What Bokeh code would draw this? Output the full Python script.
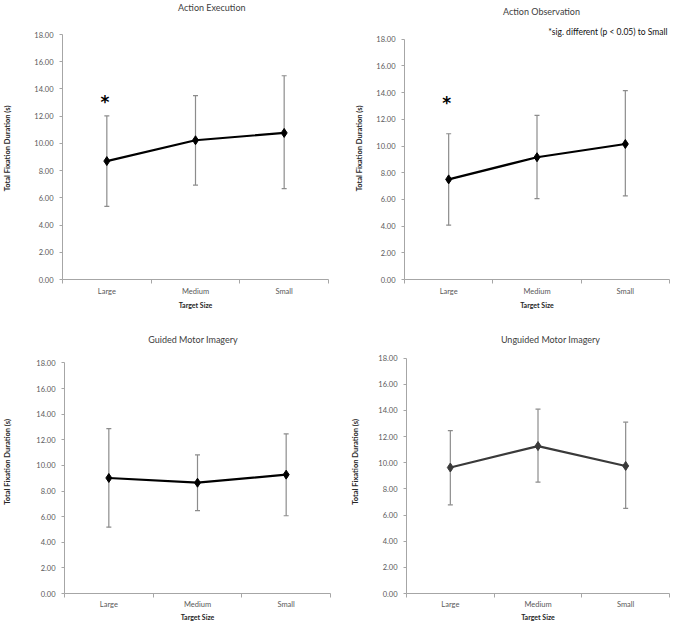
from bokeh.plotting import figure
from bokeh.layouts import column, row
from bokeh.models import (ColumnDataSource, Range1d, FixedTicker, PrintfTickFormatter,
                          Whisker, TeeHead, Label)
from bokeh.embed import file_html
from bokeh.resources import INLINE

# ---------------- data ----------------
categories = ["Large", "Medium", "Small"]
y_ticks = [0, 2, 4, 6, 8, 10, 12, 14, 16, 18]

exec_mean = [8.70, 10.23, 10.77]
exec_upper = [12.02, 13.51, 14.97]
exec_lower = [5.37, 6.94, 6.67]

obs_mean = [7.50, 9.16, 10.15]
obs_upper = [10.92, 12.29, 14.15]
obs_lower = [4.07, 6.06, 6.26]

guided_mean = [9.02, 8.65, 9.28]
guided_upper = [12.87, 10.82, 12.46]
guided_lower = [5.18, 6.47, 6.07]

unguided_mean = [9.63, 11.27, 9.75]
unguided_upper = [12.45, 14.09, 13.10]
unguided_lower = [6.78, 8.52, 6.51]

sig_category = "Large"
exec_sig_y = 13.34
obs_sig_y = 13.53

titles = ["Action Execution", "Action Observation", "Guided Motor Imagery", "Unguided Motor Imagery"]
x_label = "Target Size"
y_label = "Total Fixation Duration (s)"
note_text = "*sig. different (p < 0.05) to Small"

FONT = "Lato"
AXIS_COL = "#a6a6a6"
TICK_TXT = "#595959"
TITLE_COL = "#404040"
LABEL_COL = "#262626"
ERR_COL = "#8c8c8c"
# trailing em spaces nudge the rotated y label down to the middle of the 0-18 span
YLAB_PAD = "\u2003\u2003\u2003"


def make_panel(title, mean, upper, lower, w, h, left, right, frame_h, y18_px,
               title_pos, ylab_standoff, tick_standoff, xlab_standoff,
               line_col="black", sig_y=None, note_pos=None):
    n = len(categories)
    ymax = y_ticks[-1]
    fw = w - left - right
    ytop = ymax * frame_h / (frame_h - y18_px)

    def dx(px):
        return px / fw * n

    def dy(py):
        return (frame_h - py) / frame_h * ytop

    p = figure(width=w, height=h, output_backend="svg", toolbar_location=None,
               x_range=Range1d(0, n), y_range=Range1d(0, ytop),
               min_border_left=left, min_border_right=right,
               min_border_top=0, min_border_bottom=h - frame_h)
    p.outline_line_color = None
    p.xgrid.visible = False
    p.ygrid.visible = False

    pos = [i + 0.5 for i in range(n)]
    src = ColumnDataSource(dict(x=pos, y=mean, up=upper, lo=lower))

    ya = p.yaxis[0]
    ya.ticker = FixedTicker(ticks=y_ticks)
    ya.bounds = (0, ymax)
    ya.formatter = PrintfTickFormatter(format="%.2f")
    ya.axis_line_color = AXIS_COL
    ya.major_tick_line_color = AXIS_COL
    ya.major_tick_out = 3
    ya.major_tick_in = 0
    ya.minor_tick_line_color = None
    ya.major_label_text_font = FONT
    ya.major_label_text_font_size = "7.5px"
    ya.major_label_text_color = TICK_TXT
    ya.major_label_standoff = 6
    ya.axis_label = y_label + YLAB_PAD
    ya.axis_label_text_font = FONT
    ya.axis_label_text_font_style = "bold"
    ya.axis_label_text_font_size = "7.5px"
    ya.axis_label_text_color = LABEL_COL
    ya.axis_label_standoff = ylab_standoff

    xa = p.xaxis[0]
    xa.ticker = FixedTicker(ticks=pos, minor_ticks=list(range(n + 1)))
    xa.major_label_overrides = {pos[i]: categories[i] for i in range(n)}
    xa.axis_line_color = AXIS_COL
    xa.major_tick_line_color = None
    xa.major_tick_out = 0
    xa.major_tick_in = 0
    xa.minor_tick_line_color = AXIS_COL
    xa.minor_tick_out = 4
    xa.minor_tick_in = 0
    xa.major_label_text_font = FONT
    xa.major_label_text_font_size = "7.5px"
    xa.major_label_text_color = TICK_TXT
    xa.major_label_standoff = tick_standoff
    xa.axis_label = x_label
    xa.axis_label_text_font = FONT
    xa.axis_label_text_font_style = "bold"
    xa.axis_label_text_font_size = "7px"
    xa.axis_label_text_color = LABEL_COL
    xa.axis_label_standoff = xlab_standoff

    head = dict(size=5, line_color=ERR_COL, line_width=1.2)
    p.add_layout(Whisker(base="x", upper="up", lower="lo", source=src,
                         line_color=ERR_COL, line_width=1.2,
                         upper_head=TeeHead(**head), lower_head=TeeHead(**head)))

    p.line("x", "y", source=src, line_color=line_col, line_width=2.2)
    p.scatter("x", "y", source=src, marker="diamond", size=9,
              fill_color=line_col, line_color=line_col)

    p.add_layout(Label(x=dx(title_pos[0]), y=dy(title_pos[1]), text=title,
                       text_align="center", text_baseline="middle",
                       text_font=FONT, text_font_size="9px", text_color=TITLE_COL))
    if sig_y is not None:
        p.add_layout(Label(x=categories.index(sig_category) + 0.5, y=sig_y, text="*",
                           text_align="center", text_baseline="middle",
                           x_offset=-2, y_offset=-4,
                           text_font="DejaVu Sans", text_font_style="bold",
                           text_font_size="17px", text_color="black"))
    if note_pos is not None:
        p.add_layout(Label(x=dx(note_pos[0]), y=dy(note_pos[1]), text=note_text,
                           text_align="right", text_baseline="middle",
                           text_font=FONT, text_font_size="8.5px", text_color="#111111"))
    return p


p1 = make_panel(titles[0], exec_mean, exec_upper, exec_lower,
                w=340, h=313, left=59, right=12, frame_h=279, y18_px=34,
                title_pos=(151, 7), ylab_standoff=19, tick_standoff=3, xlab_standoff=2,
                sig_y=exec_sig_y)
p2 = make_panel(titles[1], obs_mean, obs_upper, obs_lower,
                w=330, h=313, left=64, right=1, frame_h=281, y18_px=39,
                title_pos=(137, 11), ylab_standoff=9, tick_standoff=3, xlab_standoff=2,
                sig_y=obs_sig_y, note_pos=(263, 32))
p3 = make_panel(titles[2], guided_mean, guided_upper, guided_lower,
                w=340, h=310, left=61, right=10, frame_h=283, y18_px=50,
                title_pos=(130, 26), ylab_standoff=21, tick_standoff=2, xlab_standoff=1)
p4 = make_panel(titles[3], unguided_mean, unguided_upper, unguided_lower,
                w=330, h=310, left=66, right=1, frame_h=283, y18_px=45,
                title_pos=(144, 26), ylab_standoff=15, tick_standoff=2, xlab_standoff=1,
                line_col="#3a3a3a")

layout = column(row(p1, p2), row(p3, p4))
open("out.html", "w").write(file_html(layout, INLINE))
